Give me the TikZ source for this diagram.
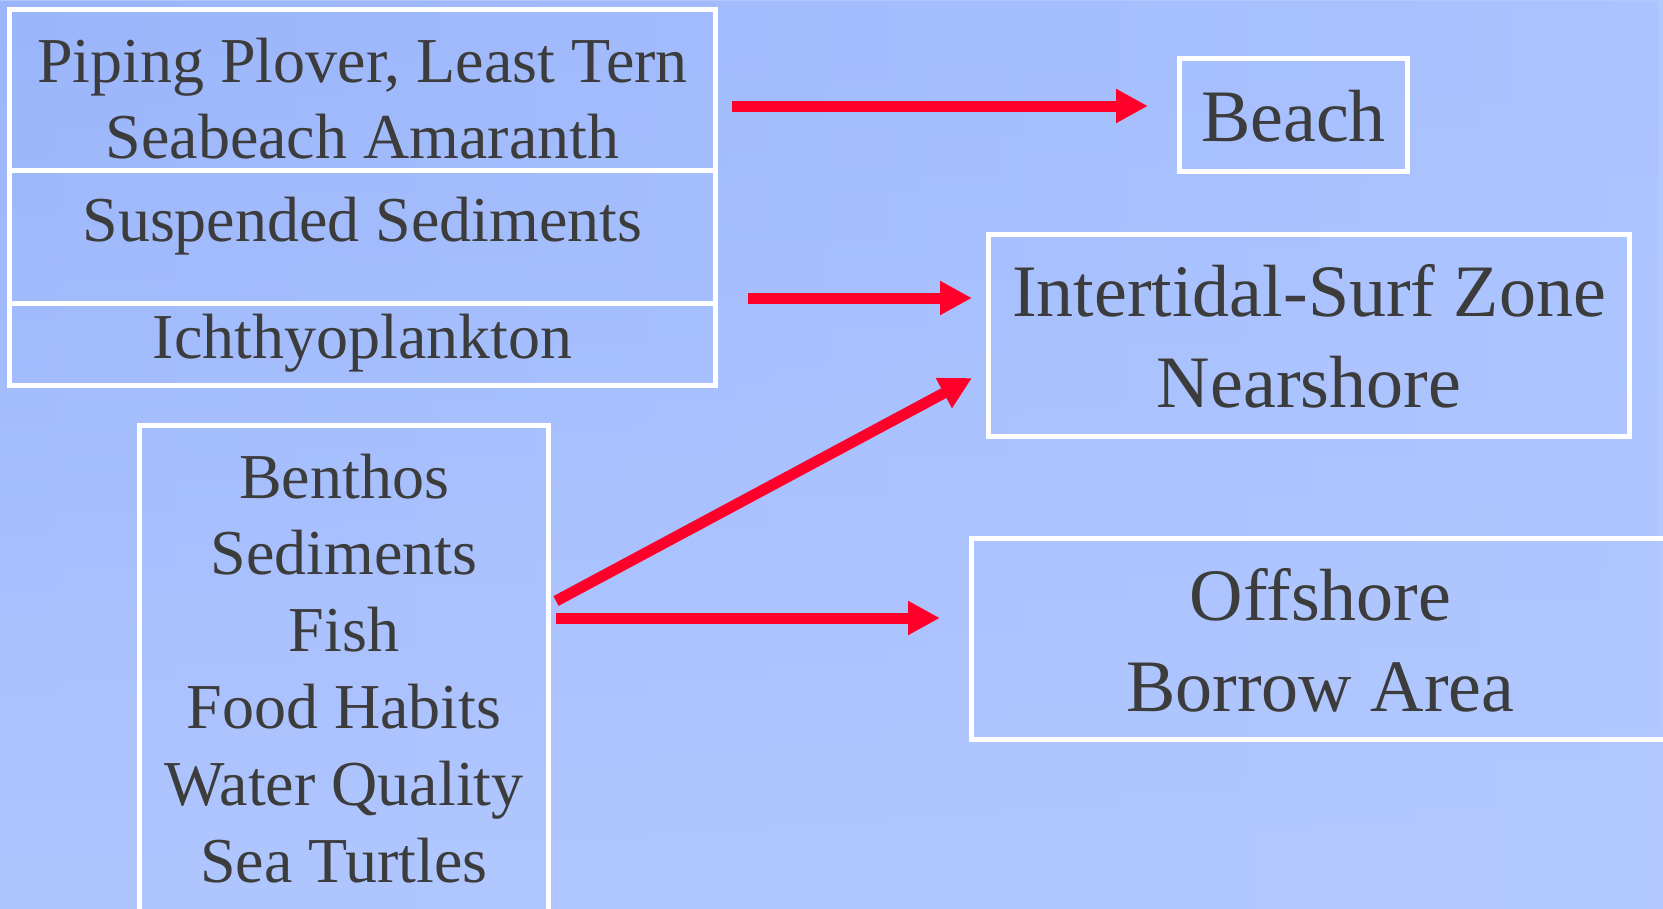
\documentclass[tikz,border=0pt]{standalone}
\usepackage{fontspec}
\setmainfont{Liberation Serif}
\usetikzlibrary{arrows.meta,fadings}
\definecolor{bgtl}{RGB}{154,181,250}
\definecolor{bgtr}{RGB}{171,195,255}
\definecolor{bgbl}{RGB}{176,198,255}
\definecolor{bgbr}{RGB}{178,200,255}
\definecolor{txt}{RGB}{60,60,60}
\definecolor{arrred}{RGB}{255,0,42}
\tikzset{
  box/.style={draw=white, line width=5pt, inner sep=0pt, rectangle},
  divline/.style={draw=white, line width=5pt},
  ltxt/.style={anchor=base, inner sep=0pt, text=txt, font=\fontsize{64}{77}\selectfont},
  rtxt/.style={anchor=base, inner sep=0pt, text=txt, font=\fontsize{74}{89}\selectfont},
  arr/.style={draw=arrred, line width=11pt, -{Triangle[length=32pt,width=32pt]}}
}
\begin{document}
\begin{tikzpicture}[x=1pt,y=-1pt]
\useasboundingbox (0,0) rectangle (1663,908);
\clip (0,0) rectangle (1663,908);
\shade[left color=bgbl, right color=bgbr] (0,0) rectangle (1663,908);
\shade[left color=bgtl, right color=bgtr, path fading=south] (0,0) rectangle (1663,908);

% boxes
\node[box, minimum width=706pt, minimum height=376pt] (topbox) at (362.5,197.5) {};
\draw[divline] (topbox.west |- 0,170) -- (topbox.east |- 0,170);
\draw[divline] (topbox.west |- 0,303) -- (topbox.east |- 0,303);
\node[box, minimum width=409pt, minimum height=524.5pt] (lowbox) at (344,687.75) {};
\node[box, minimum width=228pt, minimum height=113pt] (beach) at (1293.5,115) {};
\node[box, minimum width=641pt, minimum height=202pt] (surf) at (1309,335.5) {};
\node[box, minimum width=698pt, minimum height=201pt] (off) at (1320.5,639) {};

% texts
\node[ltxt] (t1) at (362.5,82) {Piping Plover, Least Tern};
\node[ltxt] (t2) at (362.5,158) {Seabeach Amaranth};
\node[ltxt] (t3) at (362.5,241) {Suspended Sediments};
\node[ltxt] (t4) at (362.5,358) {Ichthyoplankton};

\node[ltxt] (b1) at (344,498) {Benthos};
\node[ltxt] (b2) at (344,574.8) {Sediments};
\node[ltxt] (b3) at (344,651.6) {Fish};
\node[ltxt] (b4) at (344,728.4) {Food Habits};
\node[ltxt] (b5) at (344,805.2) {Water Quality};
\node[ltxt] (b6) at (344,882) {Sea Turtles};

\node[rtxt] (r1) at (1293.5,141) {Beach};
\node[rtxt] (r2) at (1309,316) {Intertidal-Surf Zone};
\node[rtxt] (r3) at (1309,407) {Nearshore};
\node[rtxt] (r4) at (1320.5,620) {Offshore};
\node[rtxt] (r5) at (1320.5,711) {Borrow Area};

% arrow end points
\coordinate (a1s) at (732,106);
\coordinate (a1e) at (1148,106);
\coordinate (a2s) at (748,298);
\coordinate (a2e) at (972,298);
\coordinate (a3s) at (556,601);
\coordinate (a3e) at (972,378);
\coordinate (a4s) at (556,618);
\coordinate (a4e) at (940,618);

\draw[arr] (a1s) -- (a1e);
\draw[arr] (a2s) -- (a2e);
\draw[arr] (a3s) -- (a3e);
\draw[arr] (a4s) -- (a4e);
\end{tikzpicture}
\end{document}
